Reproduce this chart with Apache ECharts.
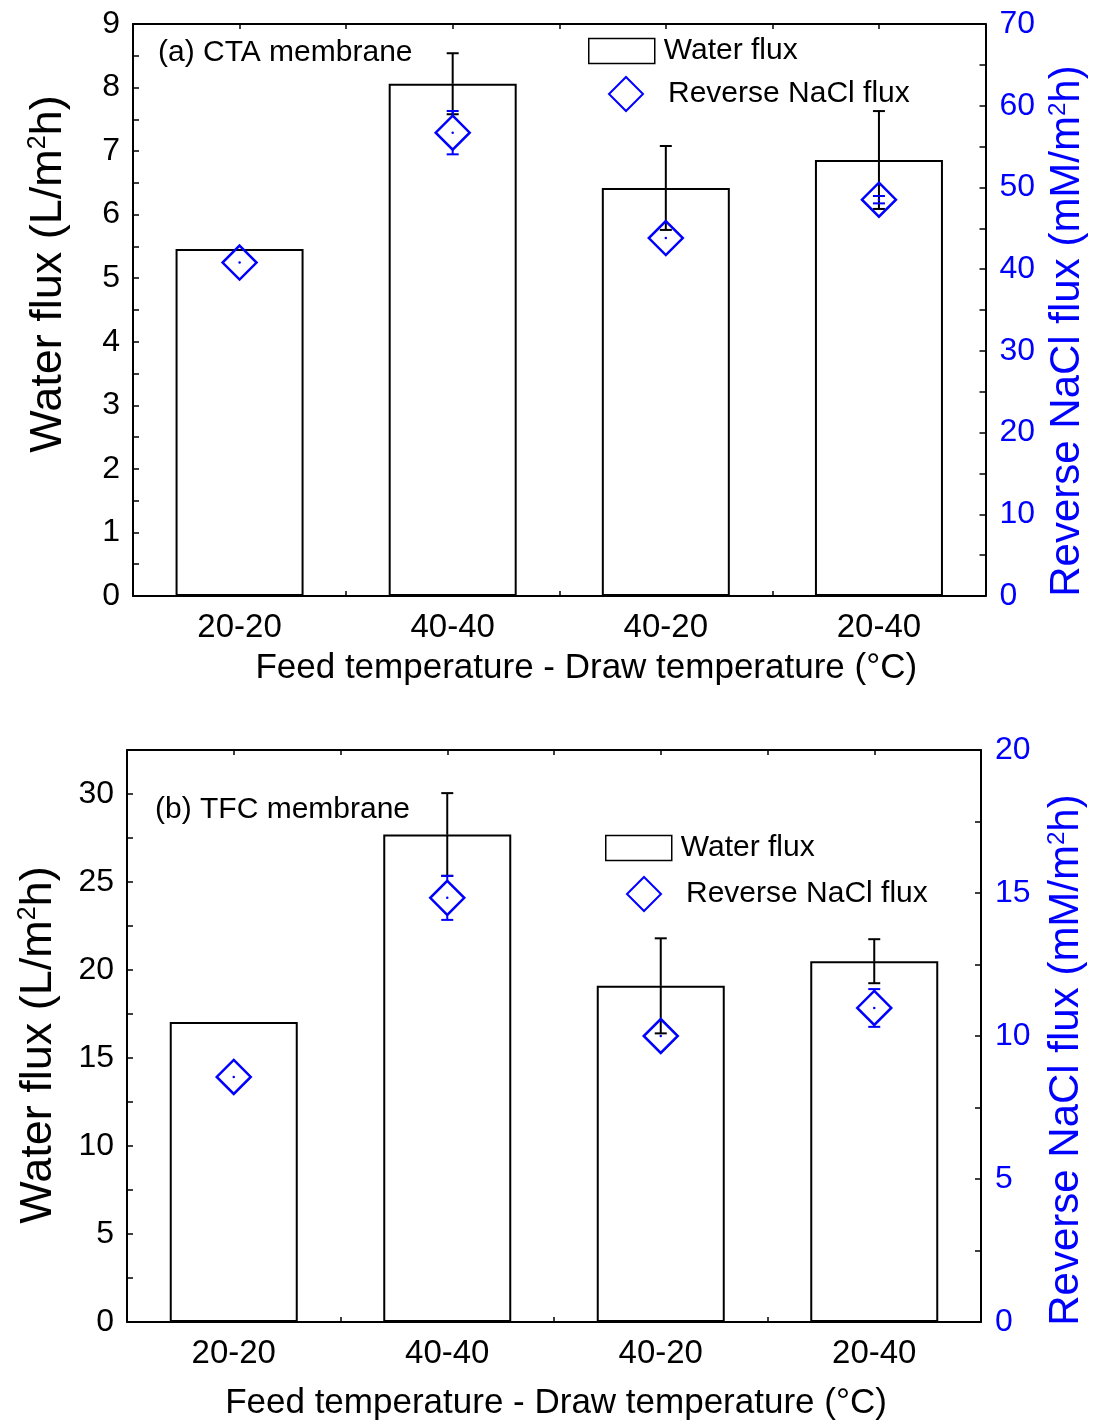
<!DOCTYPE html>
<html lang="en">
  <head>
    <meta charset="UTF-8" />
    <title>Water flux and reverse NaCl flux</title>
    <script src="https://cdn.jsdelivr.net/npm/echarts@6/dist/echarts.min.js"></script>
    <style>
      body { margin: 0; background: #fff; }
      #main { width: 1096px; height: 1423px; }
    </style>
  </head>

  <body>
    <div id="main"></div>

    <script>
      // categories: feed temperature - draw temperature
      var categories = ["20-20", "40-40", "40-20", "20-40"];

      // (a) CTA membrane
      var waterA = [5.46, 8.06, 6.42, 6.86];
      var waterErrA = [0, 0.48, 0.66, 0.77];
      var saltA = [40.8, 56.7, 43.8, 48.5];
      var saltErrA = [0, 2.65, 0, 0.45];

      // (b) TFC membrane
      var waterB = [17.05, 27.7, 19.1, 20.5];
      var waterErrB = [0, 2.35, 2.7, 1.25];
      var saltB = [8.57, 14.83, 10.0, 10.98];
      var saltErrB = [0, 0.77, 0, 0.66];

      var FONT = "Liberation Sans";
      var BLUE = "#0000ff";

      function errData(vals, errs) {
        return vals.map(function (v, i) {
          return [i, v - errs[i], v + errs[i], v];
        });
      }

      // error bar drawn with caps; gap = half symbol size kept empty around the centre
      function errRender(color, gap) {
        return function (params, api) {
          var x = api.value(0);
          var lo = api.coord([x, api.value(1)]);
          var hi = api.coord([x, api.value(2)]);
          var c = api.coord([x, api.value(3)]);
          if (Math.abs(lo[1] - hi[1]) < 0.5) return;
          var st = { stroke: color, lineWidth: 2 };
          var w = 6;
          var kids = [
            { type: "line", shape: { x1: hi[0] - w, y1: hi[1], x2: hi[0] + w, y2: hi[1] }, style: st },
            { type: "line", shape: { x1: lo[0] - w, y1: lo[1], x2: lo[0] + w, y2: lo[1] }, style: st },
          ];
          if (hi[1] < c[1] - gap) {
            kids.push({ type: "line", shape: { x1: c[0], y1: hi[1], x2: c[0], y2: c[1] - gap }, style: st });
          }
          if (lo[1] > c[1] + gap) {
            kids.push({ type: "line", shape: { x1: c[0], y1: c[1] + gap, x2: c[0], y2: lo[1] }, style: st });
          }
          return { type: "group", children: kids };
        };
      }

      function labelEvery(step) {
        return function (v) {
          return Math.abs(v / step - Math.round(v / step)) < 1e-6 ? String(v) : "";
        };
      }

      var axisLine = { show: true, onZero: false, lineStyle: { color: "#000", width: 2 } };
      var tickStyle = { color: "#000", width: 1.5 };

      function xAxes(gi, nameShift, nameGap) {
        return [
          {
            type: "category",
            gridIndex: gi,
            position: "bottom",
            data: categories,
            axisLine: axisLine,
            axisTick: { show: true, inside: true, alignWithLabel: true, length: 8, lineStyle: tickStyle },
            axisLabel: { fontFamily: FONT, fontSize: 33, color: "#000", margin: 15 },
            name: "Feed temperature - Draw temperature (\u00b0C)",
            nameLocation: "middle",
            nameGap: nameGap,
            nameTextStyle: { fontFamily: FONT, fontSize: 35, color: "#000", padding: nameShift },
          },
          {
            type: "value",
            gridIndex: gi,
            position: "bottom",
            min: 0,
            max: 4,
            interval: 1,
            axisLine: { show: false, onZero: false },
            axisTick: { show: true, inside: true, length: 5, lineStyle: tickStyle },
            axisLabel: { show: false },
            splitLine: { show: false },
          },
          {
            type: "value",
            gridIndex: gi,
            position: "top",
            min: 0,
            max: 4,
            interval: 0.5,
            axisLine: axisLine,
            axisTick: { show: true, inside: true, length: 5, lineStyle: tickStyle },
            axisLabel: { show: false },
            splitLine: { show: false },
          },
        ];
      }

      function yAxes(gi, leftMax, leftInt, leftStep, rightMax, rightInt, rightStep, leftPad, rightPad, leftGap, rightGap) {
        return [
          {
            type: "value",
            gridIndex: gi,
            position: "left",
            min: 0,
            max: leftMax,
            interval: leftInt,
            axisLine: axisLine,
            axisTick: { show: true, inside: true, length: 6, lineStyle: tickStyle },
            axisLabel: { fontFamily: FONT, fontSize: 32, color: "#000", margin: 13, formatter: labelEvery(leftStep) },
            splitLine: { show: false },
            name: "Water flux (L/m{sup|2}h)",
            nameLocation: "middle",
            nameRotate: 90,
            nameGap: leftGap,
            nameTextStyle: {
              fontFamily: FONT,
              fontSize: 45,
              color: "#000",
              padding: leftPad,
              rich: { sup: { fontFamily: FONT, fontSize: 25, color: "#000", verticalAlign: "top" } },
            },
          },
          {
            type: "value",
            gridIndex: gi,
            position: "right",
            min: 0,
            max: rightMax,
            interval: rightInt,
            axisLine: axisLine,
            axisTick: { show: true, inside: true, length: 6, lineStyle: tickStyle },
            axisLabel: { fontFamily: FONT, fontSize: 32, color: BLUE, margin: 14, formatter: labelEvery(rightStep) },
            splitLine: { show: false },
            name: "Reverse NaCl flux (mM/m{sup|2}h)",
            nameLocation: "middle",
            nameRotate: 90,
            nameGap: rightGap,
            nameTextStyle: {
              fontFamily: FONT,
              fontSize: 42,
              color: BLUE,
              padding: rightPad,
              rich: { sup: { fontFamily: FONT, fontSize: 24, color: BLUE, verticalAlign: "top" } },
            },
          },
        ];
      }

      function panelSeries(xi, yl, yr, water, waterErr, salt, saltErr) {
        return [
          {
            name: "Water flux",
            type: "bar",
            xAxisIndex: xi,
            yAxisIndex: yl,
            data: water,
            barWidth: 128,
            itemStyle: { color: "#fff", borderColor: "#000", borderWidth: 2 },
            z: 2,
          },
          {
            name: "water err",
            type: "custom",
            xAxisIndex: xi,
            yAxisIndex: yl,
            data: errData(water, waterErr),
            renderItem: errRender("#000", 0),
            clip: false,
            z: 3,
          },
          {
            name: "Reverse NaCl flux",
            type: "scatter",
            xAxisIndex: xi,
            yAxisIndex: yr,
            data: salt,
            symbol: "diamond",
            symbolSize: 34,
            itemStyle: { color: "rgba(0,0,0,0)", borderColor: BLUE, borderWidth: 2.5, opacity: 1 },
            z: 4,
          },
          {
            name: "salt dot",
            type: "scatter",
            xAxisIndex: xi,
            yAxisIndex: yr,
            data: salt,
            symbol: "circle",
            symbolSize: 2.5,
            itemStyle: { color: BLUE, opacity: 1 },
            z: 4,
          },
          {
            name: "salt err",
            type: "custom",
            xAxisIndex: xi,
            yAxisIndex: yr,
            data: errData(salt, saltErr),
            renderItem: errRender(BLUE, 17),
            clip: false,
            z: 4,
          },
        ];
      }

      function legends(barLeft, barTop, diaLeft, diaTop) {
        return [
          {
            left: barLeft,
            top: barTop,
            padding: 0,
            itemWidth: 66,
            itemHeight: 25,
            selectedMode: false,
            data: [{ name: "Water flux", icon: "rect", itemStyle: { color: "#fff", borderColor: "#000", borderWidth: 1.5 } }],
            textStyle: { fontFamily: FONT, fontSize: 30, color: "#000", padding: [0, 0, 0, 4] },
          },
          {
            left: diaLeft,
            top: diaTop,
            padding: 0,
            itemWidth: 34,
            itemHeight: 34,
            selectedMode: false,
            data: [{ name: "Reverse NaCl flux", icon: "diamond", itemStyle: { color: "rgba(0,0,0,0)", borderColor: BLUE, borderWidth: 2, opacity: 1 } }],
            textStyle: { fontFamily: FONT, fontSize: 30, color: "#000", padding: [0, 0, 0, 20] },
          },
        ];
      }

      var chart = echarts.init(document.getElementById("main"));

      var option = {
        backgroundColor: "#fff",
        animation: false,
        title: [
          { text: "(a) CTA membrane", left: 158, top: 38, padding: 0, textStyle: { fontFamily: FONT, fontSize: 30, fontWeight: "normal", color: "#000" } },
          { text: "(b) TFC membrane", left: 155, top: 795, padding: 0, textStyle: { fontFamily: FONT, fontSize: 30, fontWeight: "normal", color: "#000" } },
        ],
        legend: legends(588, 36, 608, 76).concat(legends(605, 833, 626, 876)),
        grid: [
          { left: 133, top: 24, width: 854, height: 572 },
          { left: 127, top: 750, width: 854, height: 572 },
        ],
        xAxis: xAxes(0, [0, 0, 0, 54], 55).concat(xAxes(1, [0, 0, 0, 4], 64)),
        yAxis: yAxes(0, 9, 0.5, 1, 70, 5, 10, [0, 0, 0, 72], [0, 42, 0, 0], 62, 58).concat(
          yAxes(1, 32.5, 2.5, 5, 20, 2.5, 5, [0, 18, 0, 0], [0, 48, 0, 0], 66, 64)
        ),
        series: panelSeries(0, 0, 1, waterA, waterErrA, saltA, saltErrA).concat(
          panelSeries(3, 2, 3, waterB, waterErrB, saltB, saltErrB)
        ),
      };

      chart.setOption(option);
    </script>
  </body>
</html>
